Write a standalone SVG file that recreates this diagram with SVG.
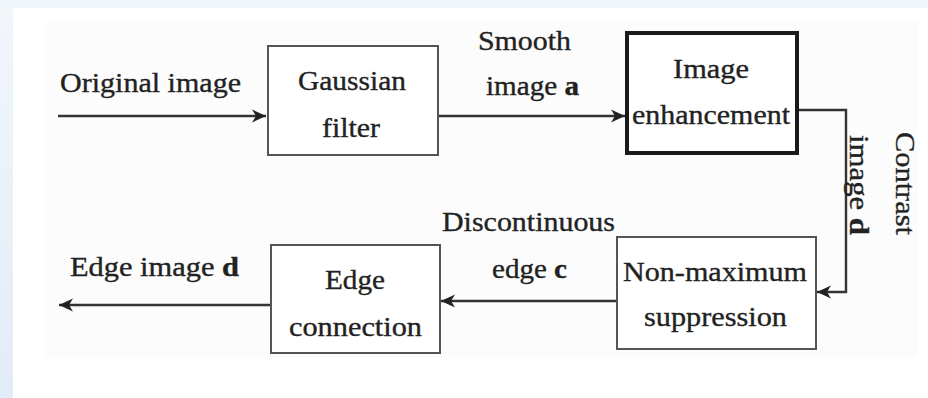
<svg xmlns="http://www.w3.org/2000/svg" width="928" height="398" viewBox="0 0 928 398" font-family="Liberation Serif, Times New Roman, serif">
<defs>
<marker id="ah" viewBox="-14 -7 15 14" markerWidth="15" markerHeight="14" refX="0" refY="0" orient="auto" markerUnits="userSpaceOnUse">
<path d="M0,0 L-14,-6.5 L-10,0 L-14,6.5 Z" fill="#222"/>
</marker>
<linearGradient id="bg" x1="0" y1="0" x2="0" y2="1">
<stop offset="0" stop-color="#f1f6fb"/>
<stop offset="1" stop-color="#e2ecf7"/>
</linearGradient>
<style>
text{font-family:'Liberation Serif','Times New Roman',serif;font-size:27px;fill:#222;stroke:#222;stroke-width:0.35;}
.b{font-weight:bold;}
.box{fill:#fff;stroke:#555;stroke-width:2;}
.thick{fill:#fff;stroke:#1a1a1a;stroke-width:4;}
.ln{fill:none;stroke:#333;stroke-width:2.4;}
</style>
</defs>
<rect x="0" y="0" width="928" height="398" fill="url(#bg)"/>
<rect x="13" y="8" width="915" height="390" fill="#ffffff"/>
<rect x="45" y="22" width="873" height="336" fill="#fcfcfc"/>

<g id="connectors">
<line class="ln" x1="58" y1="116" x2="266" y2="116" marker-end="url(#ah)"/>
<line class="ln" x1="438" y1="116" x2="625" y2="116" marker-end="url(#ah)"/>
<polyline class="ln" points="797,110 846,110 846,292 817,292" marker-end="url(#ah)"/>
<line class="ln" x1="617" y1="301" x2="441" y2="301" marker-end="url(#ah)"/>
<line class="ln" x1="271" y1="305" x2="59" y2="305" marker-end="url(#ah)"/>
<text x="60" y="92" textLength="181" lengthAdjust="spacingAndGlyphs">Original image</text>
<text x="478" y="50" textLength="93" lengthAdjust="spacingAndGlyphs">Smooth</text>
<text x="486" y="95" textLength="93" lengthAdjust="spacingAndGlyphs">image <tspan class="b">a</tspan></text>
<text transform="translate(896,132) rotate(90)" textLength="103" lengthAdjust="spacingAndGlyphs">Contrast</text>
<text transform="translate(850,135) rotate(90)" textLength="100" lengthAdjust="spacingAndGlyphs">image <tspan class="b">d</tspan></text>
<text x="442" y="231" textLength="173" lengthAdjust="spacingAndGlyphs">Discontinuous</text>
<text x="492" y="278" textLength="75" lengthAdjust="spacingAndGlyphs">edge <tspan class="b">c</tspan></text>
<text x="70" y="276" textLength="169" lengthAdjust="spacingAndGlyphs">Edge image <tspan class="b">d</tspan></text>
</g>

<g id="gaussian">
<rect class="box" x="268" y="46" width="170" height="109"/>
<text x="298" y="90" textLength="108" lengthAdjust="spacingAndGlyphs">Gaussian</text>
<text x="322" y="137" textLength="58" lengthAdjust="spacingAndGlyphs">filter</text>
</g>

<g id="enhancement">
<rect class="thick" x="627" y="33" width="170" height="120"/>
<text x="673" y="78" textLength="76" lengthAdjust="spacingAndGlyphs">Image</text>
<text x="632" y="124" textLength="158" lengthAdjust="spacingAndGlyphs">enhancement</text>
</g>

<g id="nonmax">
<rect class="box" x="617" y="237" width="199" height="112"/>
<text x="623" y="281" textLength="184" lengthAdjust="spacingAndGlyphs">Non-maximum</text>
<text x="644" y="326" textLength="143" lengthAdjust="spacingAndGlyphs">suppression</text>
</g>

<g id="edgeconn">
<rect class="box" x="271" y="245" width="169" height="108"/>
<text x="325" y="289" textLength="60" lengthAdjust="spacingAndGlyphs">Edge</text>
<text x="289" y="336" textLength="133" lengthAdjust="spacingAndGlyphs">connection</text>
</g>
</svg>
